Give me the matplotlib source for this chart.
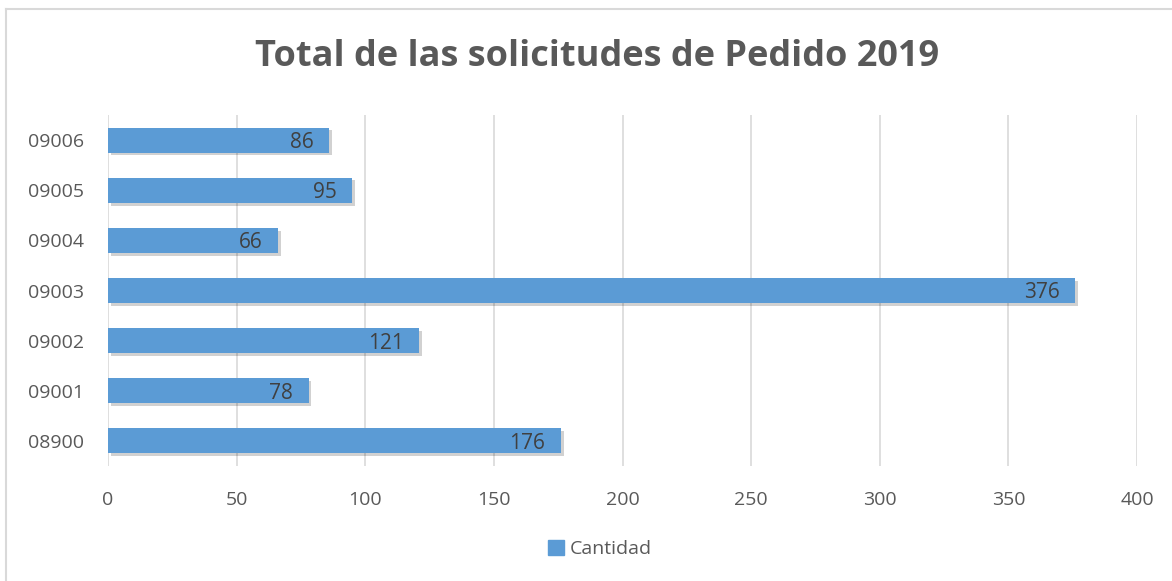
import matplotlib.pyplot as plt
import matplotlib.patheffects as pe
from matplotlib.lines import Line2D
from matplotlib.patches import Patch

codigos = ['08900', '09001', '09002', '09003', '09004', '09005', '09006']
cantidad = [176, 78, 121, 376, 66, 95, 86]
xticks = [0, 50, 100, 150, 200, 250, 300, 350, 400]

plt.rcParams['font.family'] = ['Open Sans', 'DejaVu Sans']

fig = plt.figure(figsize=(11.72, 5.81), dpi=100)
ax = fig.add_axes([108 / 1172, 1 - 466 / 581, (1137 - 108) / 1172, (466 - 115) / 581])

# chart border (only top and left visible in the reference)
fig.add_artist(Line2D([6 / 1172, 6 / 1172], [0, 1 - 9 / 581], transform=fig.transFigure,
                      color='#d9d9d9', lw=1.5))
fig.add_artist(Line2D([6 / 1172, 1], [1 - 9 / 581, 1 - 9 / 581], transform=fig.transFigure,
                      color='#d9d9d9', lw=1.5))

ypos = range(len(codigos))
bars = ax.barh(ypos, cantidad, height=0.5, color='#5b9bd5', zorder=3)
for b in bars:
    b.set_path_effects([pe.SimplePatchShadow(offset=(2, -2), shadow_rgbFace='#000000', alpha=0.18),
                        pe.Normal()])

for y, v in zip(ypos, cantidad):
    ax.text(v - 6, y, str(v), ha='right', va='center_baseline', fontsize=15, color='#404040', zorder=4)

ax.set_xlim(0, 400)
ax.set_ylim(-0.5, len(codigos) - 0.5)
ax.set_xticks(xticks)
ax.set_yticks(list(ypos))
ax.set_yticklabels(codigos)
ax.grid(axis='x', color='#d9d9d9', lw=1.2, zorder=0)
for s in ax.spines.values():
    s.set_visible(False)
ax.tick_params(length=0, labelsize=14, labelcolor='#595959')
ax.tick_params(axis='x', pad=18)
ax.tick_params(axis='y', pad=17)

fig.text(597 / 1172, 1 - 57 / 581, 'Total de las solicitudes de Pedido 2019', ha='center', va='center',
         fontsize=26, fontweight='bold', color='#595959')

fig.legend(handles=[Patch(color='#5b9bd5', label='Cantidad')], loc='center',
           bbox_to_anchor=(600 / 1172, 1 - 549 / 581), frameon=False, fontsize=14,
           handlelength=0.8, handleheight=0.8, handletextpad=0.3, labelcolor='#595959')

fig.savefig('out.png', dpi=100)
